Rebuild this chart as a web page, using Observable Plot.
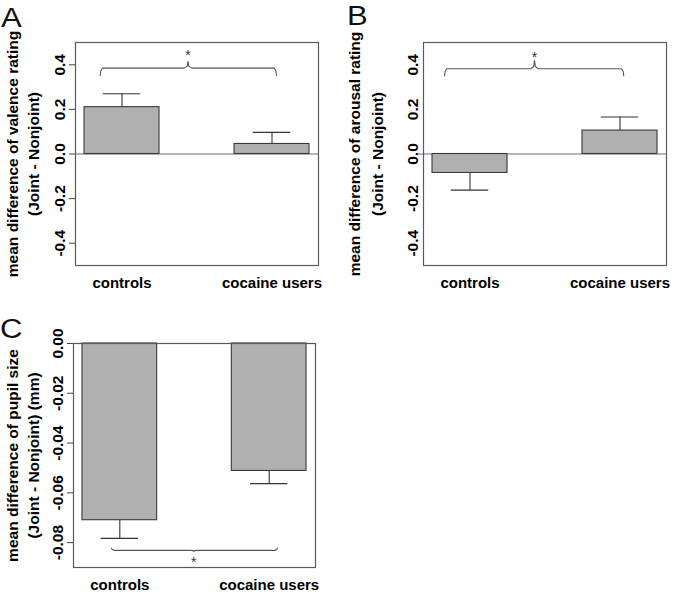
<!DOCTYPE html>
<html><head><meta charset="utf-8">
<script src="https://cdn.jsdelivr.net/npm/d3@7"></script>
<script src="https://cdn.jsdelivr.net/npm/@observablehq/plot@0.6"></script>
<style>
body{margin:0;background:#fff;}
#root{position:relative;width:674px;height:592px;overflow:hidden;font-family:"Liberation Sans",Arial,sans-serif;background:#fff;}
.panel{position:absolute;}
.letter{position:absolute;font-size:27px;line-height:1;color:#111;transform-origin:0 0;transform:scaleX(1.15);font-family:"Liberation Sans",Arial,sans-serif;}
</style></head><body><div id="root"></div>
<script>
// ---- data ----
const groups = ["controls", "cocaine users"];

const valenceMean = [0.21, 0.045];
const valenceSE   = [0.06, 0.052];
const arousalMean = [-0.085, 0.105];
const arousalSE   = [0.077, 0.061];
const pupilMean   = [-0.0710, -0.0512];
const pupilSE     = [0.0073, 0.0051];

const ratingTicks = [-0.4, -0.2, 0, 0.2, 0.4];
const pupilTicks  = [-0.08, -0.06, -0.04, -0.02, 0];

// significance brackets: [from, to, middle, level, end level, tip level, star level]
const sigValence = [1.21, 3.56, 2.38, 0.385, 0.352, 0.415, 0.442];
const sigArousal = [1.16, 3.55, 2.36, 0.382, 0.350, 0.420, 0.434];
const sigPupil   = [1.39, 3.61, 2.49, -0.0831, -0.0822, -0.0835, -0.0880];

const labelsA = ["mean difference of valence rating", "(Joint - Nonjoint)"];
const labelsB = ["mean difference of arousal rating", "(Joint - Nonjoint)"];
const labelsC = ["mean difference of pupil size", "(Joint - Nonjoint) (mm)"];

// ---- drawing ----
const FONT = "Liberation Sans, Arial, Helvetica, sans-serif";

function bracketPoints(s) {
  const [x1, x2, xm, y, yEnd, yTip] = s;
  const d = y - yEnd;
  const t = yTip - y;
  const c = 0.03, m = 0.05;
  return [
    {x: x1, y: yEnd},
    {x: x1 + c * 0.25, y: y - d * 0.35},
    {x: x1 + c, y: y},
    {x: xm - m, y: y},
    {x: xm - 0.01, y: y + t * 0.3},
    {x: xm, y: yTip},
    {x: xm + 0.01, y: y + t * 0.3},
    {x: xm + m, y: y},
    {x: x2 - c, y: y},
    {x: x2 - c * 0.25, y: y - d * 0.35},
    {x: x2, y: yEnd}
  ];
}

function panel(o) {
  const rows = groups.map((g, i) => ({
    group: g,
    left: 1 + 2 * i, right: 2 + 2 * i, center: 1.5 + 2 * i,
    base: 0,
    mean: o.means[i],
    end: o.means[i] + Math.sign(o.means[i]) * o.ses[i]
  }));
  const centers = rows.map(d => d.center);
  const s = o.sig;
  return Plot.plot({
    width: o.width, height: o.height,
    marginLeft: o.ml, marginRight: o.mr, marginTop: o.mt, marginBottom: o.mb,
    style: {fontFamily: FONT, fontSize: "15px", fontWeight: "bold", color: "#000", background: "white", overflow: "visible"},
    x: {domain: [0.88, 4.12]},
    y: {domain: o.yDomain},
    marks: [
      Plot.ruleY([0], {stroke: "#6e6e6e", strokeWidth: 1.2}),
      Plot.rect(rows, {x1: "left", x2: "right", y1: "base", y2: "mean", fill: "#b0b0b0", stroke: "#3a3a3a", strokeWidth: 1.1}),
      Plot.ruleX(rows, {x: "center", y1: "mean", y2: "end", stroke: "#333", strokeWidth: 1.1}),
      Plot.ruleY(rows, {y: "end", x1: d => d.center - 0.25, x2: d => d.center + 0.25, stroke: "#333", strokeWidth: 1.1}),
      Plot.line(bracketPoints(s), {x: "x", y: "y", stroke: "#555", strokeWidth: 1.1}),
      Plot.text(["*"], {x: s[2], y: s[6], text: d => d, fontSize: 14, fontWeight: "normal", fill: "#333"}),
      Plot.frame({stroke: "#5a5a5a", strokeWidth: 1.2}),
      Plot.axisY({ticks: o.ticks, tickFormat: o.fmt, tickRotate: -90, tickSize: o.tickSize, tickPadding: o.tickPad,
                  label: null, fontSize: 15.5, fontWeight: "bold", stroke: "#444"}),
      ...(o.zeroTick ? [Plot.axisY({ticks: [0], tickSize: 6, text: null, label: null, stroke: "#6e6e6e"})] : []),
      Plot.axisX({ticks: centers, tickFormat: d => groups[Math.round((d - 1.5) / 2)], tickSize: 0, tickPadding: 12,
                  label: null, fontSize: 15, fontWeight: "bold"}),
      Plot.text([o.labels[0]], {text: d => d, frameAnchor: "left", textAnchor: "middle", rotate: -90, dx: o.l1, fontSize: 15.5, fontWeight: "bold"}),
      Plot.text([o.labels[1]], {text: d => d, frameAnchor: "left", textAnchor: "middle", rotate: -90, dx: o.l2, fontSize: 15.5, fontWeight: "bold"})
    ]
  });
}

const root = document.getElementById("root");
function place(el, left, top) {
  el.classList.add("panel");
  el.style.left = left + "px";
  el.style.top = top + "px";
  root.appendChild(el);
}
function letter(t, left, top) {
  const d = document.createElement("div");
  d.className = "letter";
  d.textContent = t;
  d.style.left = left + "px";
  d.style.top = top + "px";
  root.appendChild(d);
}

place(panel({
  means: valenceMean, ses: valenceSE, sig: sigValence, labels: labelsA,
  width: 337, height: 300, ml: 75, mr: 19, mt: 42, mb: 35,
  yDomain: [-0.5, 0.5], ticks: ratingTicks, fmt: d => d.toFixed(1),
  tickSize: 6, tickPad: 5, l1: -62, l2: -41
}), 0, 0);

place(panel({
  means: arousalMean, ses: arousalSE, sig: sigArousal, labels: labelsB,
  width: 337, height: 300, ml: 86, mr: 8, mt: 42, mb: 35,
  yDomain: [-0.5, 0.5], ticks: ratingTicks, fmt: d => d.toFixed(1),
  tickSize: 0, tickPad: 6, zeroTick: true, l1: -68, l2: -45
}), 337, 0);

place(panel({
  means: pupilMean, ses: pupilSE, sig: sigPupil, labels: labelsC,
  width: 337, height: 292, ml: 73, mr: 22, mt: 43, mb: 25,
  yDomain: [-0.09, 0], ticks: pupilTicks, fmt: d => d.toFixed(2),
  tickSize: 6, tickPad: 5, l1: -60, l2: -39
}), 0, 300);

letter("A", 1, 5);
letter("B", 347, 3);
letter("C", 0, 316);
</script>
</body></html>
